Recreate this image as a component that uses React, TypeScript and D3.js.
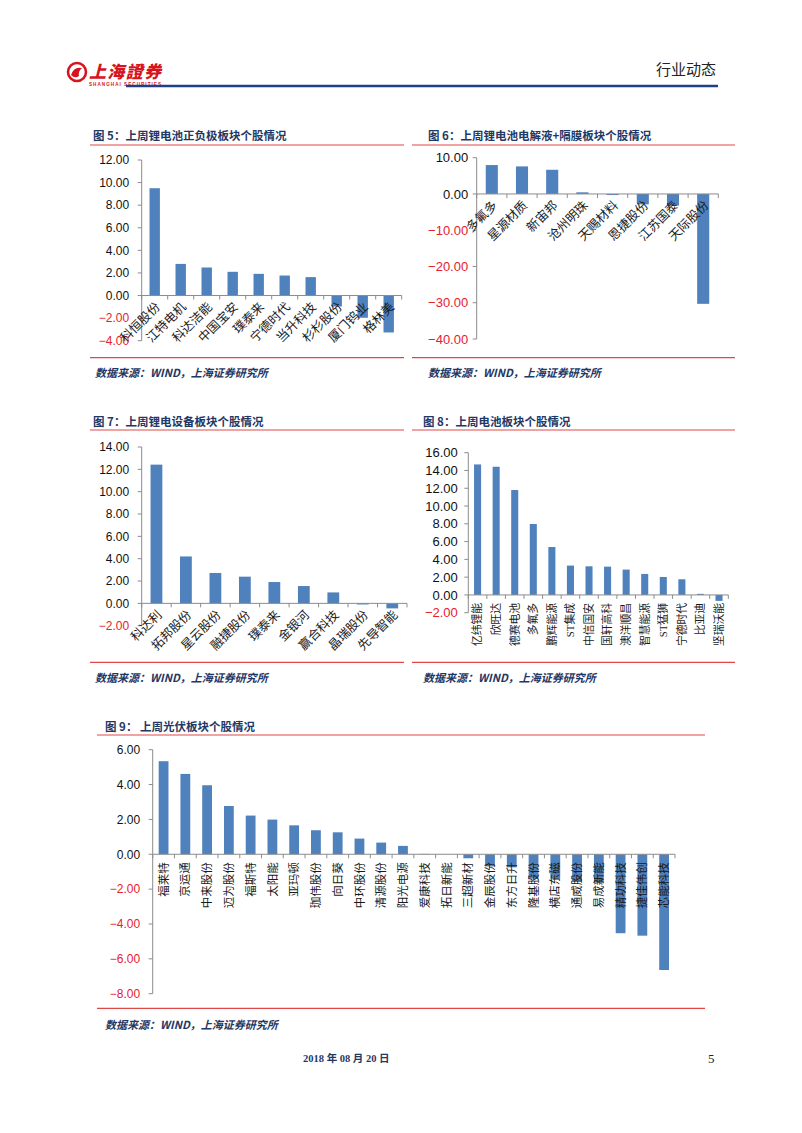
import React, { useEffect, useRef } from 'react';
import * as d3 from 'd3';

// ---- data ----
const cats5 = ['科恒股份', '江特电机', '科达洁能', '中国宝安', '璞泰来', '宁德时代', '当升科技', '杉杉股份', '厦门钨业', '格林美'];
const vals5 = [9.5, 2.8, 2.48, 2.1, 1.92, 1.77, 1.63, -0.97, -1.97, -3.27];

const cats6 = ['多氟多', '星源材质', '新宙邦', '沧州明珠', '天赐材料', '恩捷股份', '江苏国泰', '天际股份'];
const vals6 = [7.97, 7.6, 6.67, 0.45, -0.3, -2.87, -3.2, -30.3];

const cats7 = ['科达利', '拓邦股份', '星云股份', '融捷股份', '璞泰来', '金银河', '赢合科技', '晶瑞股份', '先导智能'];
const vals7 = [12.42, 4.2, 2.72, 2.39, 1.91, 1.55, 0.98, -0.1, -0.45];

const cats8 = ['亿纬锂能', '欣旺达', '德赛电池', '多氟多', '鹏辉能源', 'ST集成', '中信国安', '国轩高科', '澳洋顺昌', '智慧能源', 'ST猛狮', '宁德时代', '比亚迪', '坚瑞沃能'];
const vals8 = [14.68, 14.42, 11.8, 7.98, 5.39, 3.3, 3.22, 3.18, 2.85, 2.36, 2.02, 1.76, 0.12, -0.67];

const cats9 = ['福莱特', '京运通', '中来股份', '迈为股份', '福斯特', '太阳能', '亚玛顿', '珈伟股份', '向日葵', '中环股份', '清源股份', '阳光电源', '爱康科技', '拓日新能', '三超新材', '金辰股份', '东方日升', '隆基股份', '横店东磁', '通威股份', '易成新能', '精功科技', '捷佳伟创', '芯能科技'];
const vals9 = [5.34, 4.61, 3.96, 2.77, 2.22, 1.99, 1.66, 1.38, 1.26, 0.9, 0.67, 0.48, 0.02, 0, -0.23, -0.7, -0.75, -1.4, -1.4, -1.55, -1.6, -4.53, -4.67, -6.64];

const titles = [
  '图 5：上周锂电池正负极板块个股情况',
  '图 6：上周锂电池电解液+隔膜板块个股情况',
  '图 7：上周锂电设备板块个股情况',
  '图 8：上周电池板块个股情况',
  '图 9：  上周光伏板块个股情况',
];
const sourceText = '数据来源：WIND，上海证券研究所';

const BAR = '#4F81BD';
const AXIS = '#8C8C8C';
const RED_LINE = '#E04848';
const NAVY = '#1F3864';
const NEG = '#E8202E';

interface ChartCfg {
  cats: string[];
  vals: number[];
  min: number;
  max: number;
  step: number;
  x0: number;
  x1: number;
  yTop: number;
  yBottom: number;
  rotate: number;
  barRatio: number;
  tickFont: number;
  catFont: number;
  labelGap: number;
}

const charts: ChartCfg[] = [
  { cats: cats5, vals: vals5, min: -4, max: 12, step: 2, x0: 141.7, x1: 401.7, yTop: 160, yBottom: 340.7, rotate: -45, barRatio: 0.4, tickFont: 12, catFont: 12.5, labelGap: 12.5 },
  { cats: cats6, vals: vals6, min: -40, max: 10, step: 10, x0: 476.7, x1: 718.3, yTop: 157.7, yBottom: 339, rotate: -45, barRatio: 0.4, tickFont: 13, catFont: 12.5, labelGap: 8.5 },
  { cats: cats7, vals: vals7, min: -2, max: 14, step: 2, x0: 141.7, x1: 407, yTop: 447, yBottom: 625.7, rotate: -45, barRatio: 0.4, tickFont: 12, catFont: 12.5, labelGap: 12.5 },
  { cats: cats8, vals: vals8, min: -2, max: 16, step: 2, x0: 468.3, x1: 728.3, yTop: 452.7, yBottom: 612.7, rotate: -90, barRatio: 0.38, tickFont: 13, catFont: 10.8, labelGap: 10.5 },
  { cats: cats9, vals: vals9, min: -8, max: 6, step: 2, x0: 152.7, x1: 675, yTop: 749.7, yBottom: 993.7, rotate: -90, barRatio: 0.45, tickFont: 12, catFont: 11.5, labelGap: 12.5 },
];

// section frames: title pos, red lines, source pos
const sections = [
  { tx: 93, ty: 140, lx0: 90, lx1: 404, top: 145, bottom: 357.7, sx: 95, sy: 377 },
  { tx: 428, ty: 140, lx0: 412, lx1: 735, top: 145, bottom: 357.7, sx: 428, sy: 377 },
  { tx: 93, ty: 425.5, lx0: 90, lx1: 404, top: 430, bottom: 662.3, sx: 95, sy: 682 },
  { tx: 423, ty: 425.5, lx0: 412, lx1: 735, top: 430, bottom: 662.3, sx: 423, sy: 682 },
  { tx: 105, ty: 730.5, lx0: 97, lx1: 705, top: 735, bottom: 1008.3, sx: 105, sy: 1029 },
];

const drawBarChart = (g: d3.Selection<SVGGElement, unknown, null, undefined>, c: ChartCfg) => {
  const y = d3.scaleLinear().domain([c.min, c.max]).range([c.yBottom, c.yTop]);
  const x = d3.scaleBand().domain(c.cats).range([c.x0, c.x1]).paddingInner(0).paddingOuter(0);
  const bw = x.bandwidth() * c.barRatio;
  const y0 = y(0);

  // bars
  c.cats.forEach((cat, i) => {
    const v = c.vals[i];
    const cx = x(cat)! + x.bandwidth() / 2;
    g.append('rect')
      .attr('x', cx - bw / 2)
      .attr('y', Math.min(y(v), y0))
      .attr('width', bw)
      .attr('height', Math.abs(y(v) - y0))
      .attr('fill', BAR);
  });

  // y axis
  g.append('line')
    .attr('x1', c.x0).attr('x2', c.x0)
    .attr('y1', c.yTop).attr('y2', c.yBottom)
    .attr('stroke', AXIS).attr('stroke-width', 1);
  const ticks = d3.range(c.min, c.max + c.step / 2, c.step);
  ticks.forEach(t => {
    g.append('line')
      .attr('x1', c.x0 - 4).attr('x2', c.x0)
      .attr('y1', y(t)).attr('y2', y(t))
      .attr('stroke', AXIS);
    g.append('text')
      .attr('x', c.x0 - c.labelGap)
      .attr('y', y(t))
      .attr('dy', '0.36em')
      .attr('text-anchor', 'end')
      .style('font-family', '"Liberation Sans", Arial, sans-serif')
      .style('font-size', `${c.tickFont}px`)
      .style('fill', t < 0 ? NEG : '#111')
      .text(d3.format('.2f')(t));
  });

  // x axis at zero
  g.append('line')
    .attr('x1', c.x0).attr('x2', c.x1)
    .attr('y1', y0).attr('y2', y0)
    .attr('stroke', AXIS).attr('stroke-width', 1);
  d3.range(c.cats.length + 1).forEach(i => {
    const xx = c.x0 + i * x.bandwidth();
    g.append('line')
      .attr('x1', xx).attr('x2', xx)
      .attr('y1', y0).attr('y2', y0 + 4)
      .attr('stroke', AXIS);
  });

  // category labels
  c.cats.forEach(cat => {
    const cx = x(cat)! + x.bandwidth() / 2;
    const ax = c.rotate === -90 ? cx : cx + 3;
    const ay = c.rotate === -90 ? y0 + 8 : y0 + 9;
    g.append('text')
      .attr('x', ax)
      .attr('y', ay)
      .attr('dy', '0.36em')
      .attr('text-anchor', 'end')
      .attr('transform', `rotate(${c.rotate},${ax},${ay})`)
      .style('font-family', '"Liberation Serif", "Noto Sans CJK SC", serif')
      .style('font-size', `${c.catFont}px`)
      .style('fill', '#1a1a1a')
      .text(cat);
  });
};

export default function App() {
  const svgRef = useRef<SVGSVGElement>(null);

  useEffect(() => {
    if (!svgRef.current) return;
    const svg = d3.select(svgRef.current);
    svg.selectAll('*').remove();

    svg.append('rect').attr('width', 802).attr('height', 1133).attr('fill', '#fff');

    // header logo
    const logo = svg.append('g');
    logo.append('circle').attr('cx', 77).attr('cy', 72).attr('r', 9)
      .attr('fill', 'none').attr('stroke', '#D7141E').attr('stroke-width', 2.6);
    logo.append('path')
      .attr('d', 'M71,75 Q74,66 82,68 Q78,71 79,76 Q75,79 71,75 Z')
      .attr('fill', '#D7141E');
    logo.append('text')
      .attr('x', 89).attr('y', 78)
      .style('font-family', '"Noto Sans CJK TC", "Noto Sans CJK SC", sans-serif')
      .style('font-size', '17px').style('font-weight', 900)
      .style('font-style', 'italic')
      .style('fill', '#D7141E')
      .attr('textLength', 72)
      .text('上海證券');
    logo.append('text')
      .attr('x', 89).attr('y', 86)
      .style('font-family', '"Liberation Sans", Arial, sans-serif')
      .style('font-size', '4.6px').style('font-weight', 700)
      .style('fill', '#D7141E')
      .attr('textLength', 72)
      .text('SHANGHAI SECURITIES');

    svg.append('line')
      .attr('x1', 126).attr('x2', 718).attr('y1', 86).attr('y2', 86)
      .attr('stroke', '#1F3F86').attr('stroke-width', 2.4);
    svg.append('text')
      .attr('x', 716).attr('y', 75)
      .attr('text-anchor', 'end')
      .style('font-family', '"Noto Sans CJK SC", sans-serif')
      .style('font-size', '15px')
      .style('fill', '#222')
      .text('行业动态');

    // sections
    sections.forEach((s, i) => {
      svg.append('text')
        .attr('x', s.tx).attr('y', s.ty)
        .style('font-family', '"Noto Sans CJK SC", sans-serif')
        .style('font-size', '11.5px').style('font-weight', 700)
        .style('fill', NAVY)
        .text(titles[i]);
      [s.top, s.bottom].forEach(ly => {
        svg.append('line')
          .attr('x1', s.lx0).attr('x2', s.lx1).attr('y1', ly).attr('y2', ly)
          .attr('stroke', RED_LINE).attr('stroke-width', 1.2);
      });
      svg.append('text')
        .attr('x', s.sx).attr('y', s.sy)
        .style('font-family', '"Noto Sans CJK SC", sans-serif')
        .style('font-size', '11px').style('font-weight', 700)
        .style('font-style', 'italic')
        .style('fill', NAVY)
        .text(sourceText);
      drawBarChart(svg.append('g'), charts[i]);
    });

    // footer
    svg.append('text')
      .attr('x', 303).attr('y', 1062)
      .style('font-family', '"Liberation Serif", "Noto Sans CJK SC", serif')
      .style('font-size', '10.5px').style('font-weight', 700)
      .style('fill', NAVY)
      .text('2018 年 08 月 20 日');
    svg.append('text')
      .attr('x', 708).attr('y', 1063)
      .style('font-family', '"Liberation Serif", serif')
      .style('font-size', '13px')
      .style('fill', '#222')
      .text('5');
  }, []);

  return (
    <div style={{ position: 'absolute', left: 0, top: 0 }}>
      <svg ref={svgRef} width={802} height={1133} style={{ display: 'block' }} />
    </div>
  );
}
